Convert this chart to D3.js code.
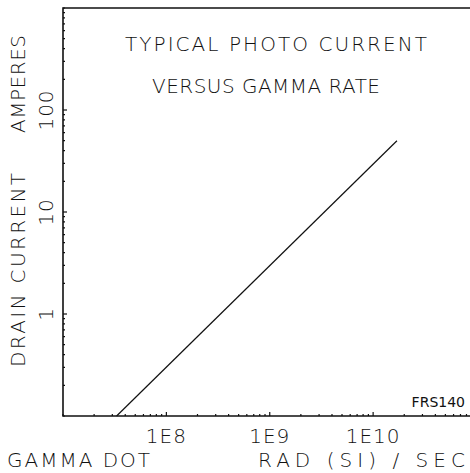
<!DOCTYPE html>
<html>
<head>
<meta charset="utf-8">
<script src="https://cdn.jsdelivr.net/npm/d3@7"></script>
<style>
  body { margin: 0; background: #fff; }
  text { font-family: "DejaVu Sans", sans-serif; font-weight: 200; fill: #111; }
</style>
</head>
<body>
<svg id="chart" width="470" height="473"></svg>
<script>
// photo current vs gamma dot, log-log

// data
var gammaRate = [3.3e7, 1.7e10];      // rad(Si)/sec
var drainCurrent = [0.1, 50];         // amperes
var xTickVals = [1e8, 1e9, 1e10];
var xTickLabels = ["1E8", "1E9", "1E10"];
var yTickVals = [1, 10, 100];
var yTickLabels = ["1", "10", "100"];
var titleLines = ["TYPICAL PHOTO CURRENT", "VERSUS GAMMA RATE"];

var svg = d3.select("#chart");

// plot box (note: "top" is taken by window.top)
var pLeft = 63, pRight = 476.5, pTop = 8, pBottom = 416;

var x = d3.scaleLog().domain([1e7, 1e11]).range([pLeft, pRight]);
var y = d3.scaleLog().domain([0.1, 1000]).range([pBottom, pTop]);

var xAll = x.ticks();
var yAll = y.ticks();

// frame: top, left, bottom
svg.append("path")
        .attr("d", "M470," + pTop + "H" + pLeft + "V" + pBottom + "H470")
        .attr("fill", "none")
        .attr("stroke", "#111")
        .attr("stroke-width", 1.6);

// inward ticks, longer at the labelled decades
svg.selectAll(".xt").data(xAll).enter().append("line")
        .attr("x1", d => x(d)).attr("x2", d => x(d))
        .attr("y1", pBottom)
        .attr("y2", d => xTickVals.indexOf(d) >= 0 ? pBottom - 4 : pBottom - 2)
        .attr("stroke", "#111").attr("stroke-width", 1.2);

svg.selectAll(".yt").data(yAll).enter().append("line")
        .attr("y1", d => y(d)).attr("y2", d => y(d))
        .attr("x1", pLeft)
        .attr("x2", d => yTickVals.indexOf(d) >= 0 ? pLeft + 4 : pLeft + 2)
        .attr("stroke", "#111").attr("stroke-width", 1.2);

// tick labels
svg.selectAll(".xl").data(xTickVals).enter().append("text")
        .attr("x", d => x(d))
        .attr("y", 443)
        .attr("text-anchor", "middle")
        .attr("font-size", "20px")
        .attr("letter-spacing", "1px")
        .text((d, i) => xTickLabels[i]);

svg.selectAll(".yl").data(yTickVals).enter().append("text")
        .attr("transform", d => "translate(53," + y(d) + ") rotate(-90)")
        .attr("text-anchor", "middle")
        .attr("font-size", "20px")
        .attr("letter-spacing", "1px")
        .text((d, i) => yTickLabels[i]);

// the curve
var line = d3.line().x(d => x(d[0])).y(d => y(d[1]));
svg.append("path")
        .datum(d3.zip(gammaRate, drainCurrent))
        .attr("d", line)
        .attr("fill", "none")
        .attr("stroke", "#111")
        .attr("stroke-width", 1.2);

// title
var titleLen = [302, 228];
svg.selectAll(".title").data(titleLines).enter().append("text")
        .attr("x", (d, i) => i == 0 ? 125 : 152)
        .attr("y", (d, i) => i == 0 ? 51 : 93)
        .attr("font-size", "20px")
        .attr("textLength", (d, i) => titleLen[i])
        .attr("lengthAdjust", "spacing")
        .text(d => d);

// axis titles
svg.append("text").attr("x", 7).attr("y", 467)
        .attr("font-size", "20px")
        .attr("textLength", 143).attr("lengthAdjust", "spacing")
        .text("GAMMA DOT");
svg.append("text").attr("x", 258).attr("y", 467)
        .attr("font-size", "20px")
        .attr("textLength", 207).attr("lengthAdjust", "spacing")
        .text("RAD (SI) / SEC");

svg.append("text")
        .attr("transform", "translate(25,367) rotate(-90)")
        .attr("font-size", "20px")
        .attr("textLength", 194).attr("lengthAdjust", "spacing")
        .text("DRAIN CURRENT");
svg.append("text")
        .attr("transform", "translate(25,133) rotate(-90)")
        .attr("font-size", "20px")
        .attr("textLength", 98).attr("lengthAdjust", "spacing")
        .text("AMPERES");

svg.append("text").attr("x", 465).attr("y", 407)
        .attr("text-anchor", "end")
        .attr("font-size", "14px")
        .style("font-weight", 400)
        .text("FRS140");
</script>
</body>
</html>
